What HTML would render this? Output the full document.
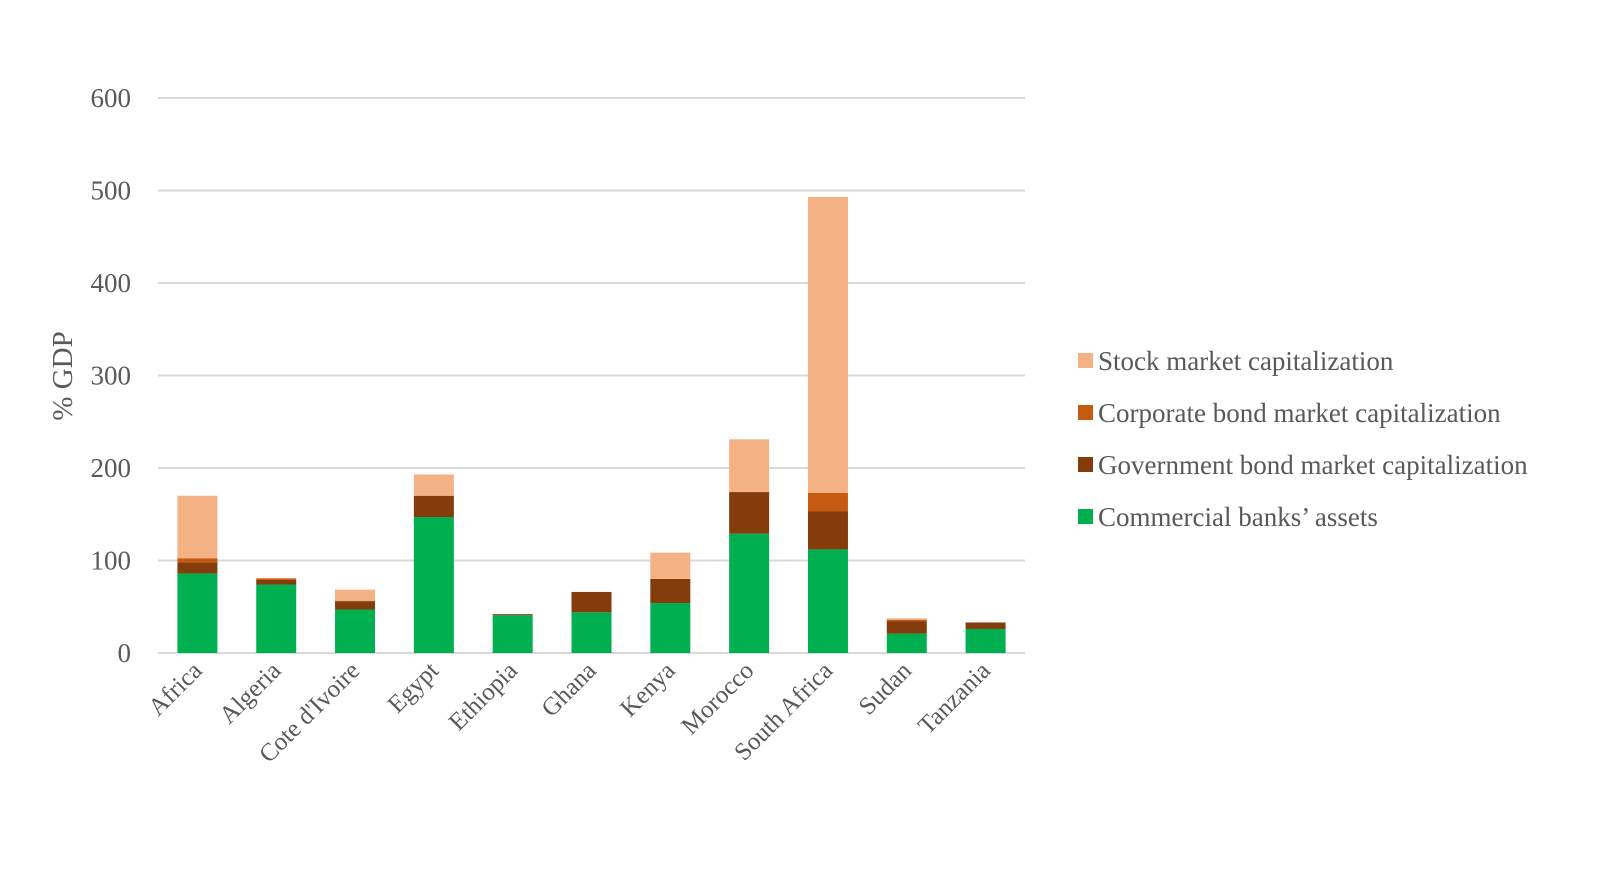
<!DOCTYPE html>
<html><head><meta charset="utf-8"><style>
html,body{margin:0;padding:0;background:#fff;}
svg{display:block;font-family:"Liberation Serif",serif;}
</style></head><body>
<svg id="chart" width="1600" height="882" viewBox="0 0 1600 882" xmlns="http://www.w3.org/2000/svg">
<g id="grid"></g>
<g id="yticks"></g>
<g id="bars"></g>
<g id="xticks"></g>
<text x="0" y="0" transform="translate(72,376) rotate(-90)" text-anchor="middle" font-size="29" fill="#595959">% GDP</text>
<g id="legend"></g>
</svg>
<script>
const categories = ["Africa","Algeria","Cote d'Ivoire","Egypt","Ethiopia","Ghana","Kenya","Morocco","South Africa","Sudan","Tanzania"];
const banks = [86,74,47,147,41,44,54,129,112,21,26];
const govBonds = [12,5,9,23,1,22,26,45,41,13.5,7];
const corpBonds = [4.5,1.5,0.5,0,0,0,0,0,20,1.5,0];
const stocks = [67.5,0.7,12,23,0,0,28.5,57,320,1.5,0];
const yTicks = [0,100,200,300,400,500,600];
const seriesNames = ["Stock market capitalization","Corporate bond market capitalization","Government bond market capitalization","Commercial banks\u2019 assets"];

const NS = "http://www.w3.org/2000/svg";
const X0 = 158, X1 = 1025, Y0 = 653, YTOP = 98, YMAX = 600;
const band = (X1 - X0) / categories.length;
const barW = 40;
function yScale(v){ return Y0 - (v / YMAX) * (Y0 - YTOP); }
function xCenter(i){ return X0 + band * (i + 0.5); }
function mk(tag, attrs, parent){ const e = document.createElementNS(NS, tag); for (const k in attrs) e.setAttribute(k, attrs[k]); parent.appendChild(e); return e; }

const grid = document.getElementById('grid');
const yt = document.getElementById('yticks');
yTicks.forEach(t => {
  const l = mk('line', {x1:X0, x2:X1, y1:yScale(t), y2:yScale(t), stroke:'#d9d9d9', 'stroke-width':2}, grid);
  
  
  const tx = mk('text', {x:131, y:yScale(t)+9, 'text-anchor':'end', 'font-size':27, fill:'#595959'}, yt);
  tx.textContent = t;
  
  
});

const colors = ['#00B050','#843C0C','#C55A11','#F4B183'];
const series = [banks, govBonds, corpBonds, stocks];
const sNames = ['banks','gov-bond','corp-bond','stock'];
const bars = document.getElementById('bars');
categories.forEach((c, i) => {
  let base = 0;
  series.forEach((s, k) => {
    const v = s[i];
    if (v > 0) {
      const r = mk('rect', {x:xCenter(i)-barW/2, y:yScale(base+v), width:barW, height:yScale(base)-yScale(base+v), fill:colors[k]}, bars);
      
      
    }
    base += v;
  });
});

const xt = document.getElementById('xticks');
categories.forEach((c, i) => {
  const x = xCenter(i) + 6, y = 672;
  const t = mk('text', {x:x, y:y, 'text-anchor':'end', 'font-size':25, fill:'#595959', transform:'rotate(-45 ' + x + ' ' + y + ')'}, xt);
  t.textContent = c;
  
  
});

const lg = document.getElementById('legend');
const legColors = ['#F4B183','#C55A11','#843C0C','#00B050'];
seriesNames.forEach((n, i) => {
  const y = 361 + i * 52;
  const r = mk('rect', {x:1078, y:y-8, width:15, height:15, fill:legColors[i]}, lg);
  
  
  const t = mk('text', {x:1098, y:y+9, 'font-size':27, fill:'#595959'}, lg);
  t.textContent = n;
  
  
});
</script>
</body></html>
